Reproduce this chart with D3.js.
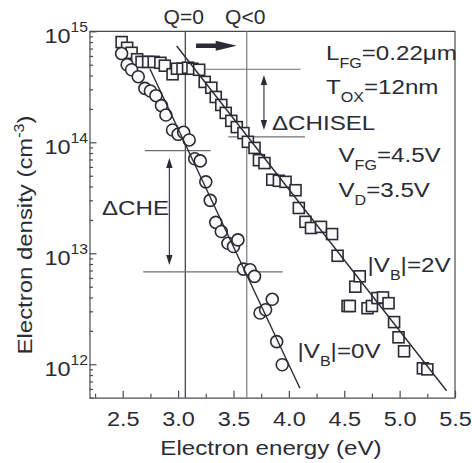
<!DOCTYPE html>
<html>
<head>
<meta charset="utf-8">
<script src="https://cdn.jsdelivr.net/npm/d3@7"></script>
<style>
  html, body { margin: 0; padding: 0; background: #fff; }
  svg { display: block; font-family: "Liberation Sans", Arial, Helvetica, sans-serif; }
</style>
</head>
<body>
<svg id="chart" width="472" height="463"></svg>
<script>
// |VB| = 0 V (circles): electron energy (eV) and electron density (cm^-3)
const circleEnergy = [2.49, 2.54, 2.58, 2.64, 2.70, 2.75, 2.80, 2.85, 2.89, 2.95,
                      3.00, 3.05, 3.10, 3.15, 3.20, 3.25, 3.29, 3.34, 3.39, 3.45,
                      3.50, 3.54, 3.59, 3.65, 3.69, 3.74, 3.79, 3.85, 3.89, 3.94];
const circleDensity = [6.3e14, 5.0e14, 4.5e14, 3.9e14, 3.06e14, 2.9e14, 2.63e14, 2.14e14, 1.76e14, 1.29e14,
                       1.18e14, 1.23e14, 1.05e14, 7.1e13, 6.8e13, 4.4e13, 3.0e13, 1.9e13, 1.57e13, 1.23e13,
                       1.15e13, 1.32e13, 7.2e12, 7.1e12, 6.2e12, 2.9e12, 3.1e12, 3.85e12, 1.6e12, 9.9e11];

// |VB| = 2 V (squares)
const squareEnergy = [2.49, 2.54, 2.58, 2.63, 2.67, 2.73, 2.78, 2.84, 2.88, 2.95,
                      2.99, 3.04, 3.09, 3.13, 3.19, 3.24, 3.30, 3.34, 3.39, 3.43,
                      3.48, 3.53, 3.59, 3.63, 3.69, 3.73, 3.78, 3.85, 3.91, 3.97,
                      4.06, 4.09, 4.15, 4.20, 4.29, 4.39, 4.44, 4.53, 4.55, 4.60,
                      4.64, 4.71, 4.75, 4.80, 4.85, 4.90, 4.95, 4.99, 5.04, 5.21, 5.25];
const squareDensity = [8.0e14, 7.1e14, 6.4e14, 5.6e14, 5.3e14, 5.3e14, 5.3e14, 5.2e14, 4.9e14, 4.1e14,
                       4.6e14, 4.6e14, 4.7e14, 4.6e14, 4.5e14, 3.5e14, 3.1e14, 2.56e14, 2.17e14, 1.84e14,
                       1.56e14, 1.37e14, 1.21e14, 1.01e14, 8.9e13, 6.9e13, 6.5e13, 4.6e13, 4.5e13, 4.4e13,
                       3.7e13, 2.56e13, 1.92e13, 1.69e13, 1.73e13, 1.49e13, 9.5e12, 3.35e12, 3.35e12, 5.0e12,
                       6.2e12, 3.2e12, 3.35e12, 3.95e12, 4.0e12, 3.55e12, 2.4e12, 1.75e12, 1.31e12, 9.2e11, 9.0e11];

// Exponential fits (straight lines on the log axis)
const fitCircleEnergy = [2.746, 4.100];
const fitCircleDensity = [4.57e14, 6.08e11];
const fitSquareEnergy = [2.987, 5.424];
const fitSquareDensity = [7.38e14, 5.78e11];

// Axis ticks
const xMajorTicks = [2.5, 3.0, 3.5, 4.0, 4.5, 5.0, 5.5];
const xMinorTicks = [2.25, 2.75, 3.25, 3.75, 4.25, 4.75, 5.25];
const yDecadeExponents = [12, 13, 14, 15];

// Q markers (vertical guides)
const qEnergy = [3.065, 3.62];
const qLabels = ["Q=0", "Q<0"];

// Horizontal guides bounding the ΔCHISEL and ΔCHE gaps
const guideDensity = [4.55e14, 1.12e14, 8.4e13, 6.8e12];
const guideStart = [3.0, 3.453, 2.70, 2.686];
const guideEnd = [4.106, 4.145, 3.294, 3.944];

// Double-headed arrows: ΔCHISEL and ΔCHE
const gapArrowEnergy = [3.775, 2.921];
const gapArrowTop = [4.04e14, 7.23e13];
const gapArrowBottom = [1.29e14, 7.85e12];

// Bold arrow between the Q labels
const boldArrowEnergy = [3.162, 3.529];
const boldArrowDensity = 7.41e14;

const ink = "#2b2b36";
const axisInk = "#4a4a52";
const guideInk = "#6e6e74";
const SX = 1.15;   // horizontal stretch of the lettering

const svg = d3.select("#chart");
const plotLeft = 89.5, plotRight = 455, plotTop = 31.3, plotBottom = 397.7;

const x = d3.scaleLinear().domain([2.2, 5.5]).range([plotLeft, plotRight]);
const y = d3.scaleLog().domain([5e11, 1e15]).range([plotBottom, plotTop]);

// ---- axes ----
const xAxisMajor = d3.axisBottom(x).tickValues(xMajorTicks).tickSizeInner(-7).tickSizeOuter(0).tickFormat("");
const xAxisMinor = d3.axisBottom(x).tickValues(xMinorTicks).tickSizeInner(-4).tickSizeOuter(0).tickFormat("");
const gx = svg.append("g").attr("transform", `translate(0,${plotBottom})`).call(xAxisMajor);
svg.append("g").attr("transform", `translate(0,${plotBottom})`).call(xAxisMinor).select(".domain").remove();

const yMinor = [];
yDecadeExponents.forEach(e => { for (let k = 2; k <= 9; k++) { const v = k * Math.pow(10, e - 1); if (v >= 5e11) yMinor.push(v); } });
const yAxisMajor = d3.axisLeft(y).tickValues(yDecadeExponents.map(e => Math.pow(10, e))).tickSizeInner(-7).tickSizeOuter(0).tickFormat("");
const yAxisMinor = d3.axisLeft(y).tickValues(yMinor).tickSizeInner(-3.5).tickSizeOuter(0).tickFormat("");
const gy = svg.append("g").attr("transform", `translate(${plotLeft},0)`).call(yAxisMajor);
svg.append("g").attr("transform", `translate(${plotLeft},0)`).call(yAxisMinor).select(".domain").remove();

svg.selectAll(".domain, .tick line").attr("stroke", axisInk).attr("stroke-width", 1.2);

// top and right frame
svg.append("path")
  .attr("d", `M${plotLeft},${plotTop}H${plotRight}V${plotBottom}`)
  .attr("fill", "none").attr("stroke", axisInk).attr("stroke-width", 1.2);

// x tick labels
gx.selectAll(".tick").append("text")
  .attr("transform", `translate(0,28.3) scale(1.12,1)`)
  .attr("text-anchor", "middle")
  .attr("font-size", 21)
  .attr("fill", ink)
  .text(d => d3.format(".1f")(d));

// y tick labels: 10 with superscript exponent
gy.selectAll(".tick").each(function (d) {
  const t = d3.select(this).append("text")
    .attr("transform", `translate(-1.5,11) scale(1.12,1)`)
    .attr("text-anchor", "end")
    .attr("font-size", 21)
    .attr("fill", ink);
  t.append("tspan").text("10");
  t.append("tspan").attr("font-size", 14).attr("dy", -10.5).text(Math.round(Math.log10(d)));
});

// axis titles
svg.append("text")
  .attr("transform", `translate(271,455) scale(${SX},1)`)
  .attr("text-anchor", "middle").attr("font-size", 21).attr("fill", ink)
  .text("Electron energy (eV)");

const yt = svg.append("text")
  .attr("transform", `translate(31.5,235) rotate(-90) scale(1.14,1)`)
  .attr("text-anchor", "middle").attr("font-size", 21).attr("fill", ink);
yt.append("tspan").text("Electron density (cm");
yt.append("tspan").attr("font-size", 14).attr("dy", -8).text("-3");
yt.append("tspan").attr("dy", 8).text(")");

// ---- guides ----
qEnergy.forEach((e, i) => {
  svg.append("line")
    .attr("x1", x(e)).attr("x2", x(e)).attr("y1", plotTop).attr("y2", plotBottom)
    .attr("stroke", i === 0 ? "#3a3a44" : "#7a7a80").attr("stroke-width", 1.2);
  svg.append("text")
    .attr("transform", `translate(${x(e) - 1.5},24) scale(1.08,1)`)
    .attr("text-anchor", "middle").attr("font-size", 19.5).attr("fill", ink)
    .text(qLabels[i]);
});

guideDensity.forEach((v, i) => {
  svg.append("line")
    .attr("x1", x(guideStart[i])).attr("x2", x(guideEnd[i]))
    .attr("y1", y(v)).attr("y2", y(v))
    .attr("stroke", guideInk).attr("stroke-width", 1.2);
});

// double-headed arrows
function arrowHead(px, py, dir) {
  const L = 10, W = 3.2;
  return `M${px},${py}L${px - W},${py - dir * L}L${px + W},${py - dir * L}Z`;
}
gapArrowEnergy.forEach((e, i) => {
  const ax = x(e), y1 = y(gapArrowTop[i]), y2 = y(gapArrowBottom[i]);
  svg.append("line").attr("x1", ax).attr("x2", ax).attr("y1", y1 + 6).attr("y2", y2 - 6)
    .attr("stroke", ink).attr("stroke-width", 1.1);
  svg.append("path").attr("d", arrowHead(ax, y1, -1)).attr("fill", ink);
  svg.append("path").attr("d", arrowHead(ax, y2, 1)).attr("fill", ink);
});

// bold arrow
{
  const x0 = x(boldArrowEnergy[0]), x1 = x(boldArrowEnergy[1]), ay = y(boldArrowDensity);
  svg.append("line").attr("x1", x0).attr("x2", x1 - 18).attr("y1", ay).attr("y2", ay)
    .attr("stroke", ink).attr("stroke-width", 4.5);
  svg.append("path").attr("d", `M${x1},${ay}L${x1 - 21},${ay - 5}L${x1 - 21},${ay + 5}Z`).attr("fill", ink);
}

// ---- data markers ----
const sq = 11;
svg.append("g").selectAll("rect")
  .data(squareEnergy.map((e, i) => [e, squareDensity[i]]))
  .join("rect")
  .attr("x", d => x(d[0]) - sq / 2).attr("y", d => y(d[1]) - sq / 2)
  .attr("width", sq).attr("height", sq)
  .attr("fill", "#f9f9f9").attr("stroke", ink).attr("stroke-width", 1.6);

svg.append("g").selectAll("circle")
  .data(circleEnergy.map((e, i) => [e, circleDensity[i]]))
  .join("circle")
  .attr("cx", d => x(d[0])).attr("cy", d => y(d[1])).attr("r", 6)
  .attr("fill", "#f9f9f9").attr("stroke", ink).attr("stroke-width", 1.6);

// ---- fit lines ----
const fitLine = d3.line().x(d => x(d[0])).y(d => y(d[1]));
[[fitCircleEnergy, fitCircleDensity], [fitSquareEnergy, fitSquareDensity]].forEach(([es, ns]) => {
  svg.append("path")
    .attr("d", fitLine(es.map((e, i) => [e, ns[i]])))
    .attr("fill", "none").attr("stroke", ink).attr("stroke-width", 1.4);
});

// ---- annotation text ----
function richText(px, py, parts) {
  const t = svg.append("text")
    .attr("transform", `translate(${px},${py}) scale(${SX},1)`)
    .attr("font-size", 21).attr("fill", ink);
  let shift = 0;
  parts.forEach(p => {
    const s = t.append("tspan").text(p.t);
    if (p.sub) { s.attr("font-size", 14).attr("dy", 8 - shift); shift = 8; }
    else if (shift) { s.attr("dy", -shift); shift = 0; }
  });
  return t;
}
richText(326, 60, [{t: "L"}, {t: "FG", sub: true}, {t: "=0.22μm"}]);
richText(326, 94, [{t: "T"}, {t: "OX", sub: true}, {t: "=12nm"}]);
richText(272, 130, [{t: "ΔCHISEL"}]);
richText(338.5, 161.7, [{t: "V"}, {t: "FG", sub: true}, {t: "=4.5V"}]);
richText(338.5, 196.7, [{t: "V"}, {t: "D", sub: true}, {t: "=3.5V"}]);
richText(102, 215, [{t: "ΔCHE"}]);
richText(367.5, 271.7, [{t: "|V"}, {t: "B", sub: true}, {t: "|=2V"}]);
richText(297.5, 358.3, [{t: "|V"}, {t: "B", sub: true}, {t: "|=0V"}]);
</script>
</body>
</html>
